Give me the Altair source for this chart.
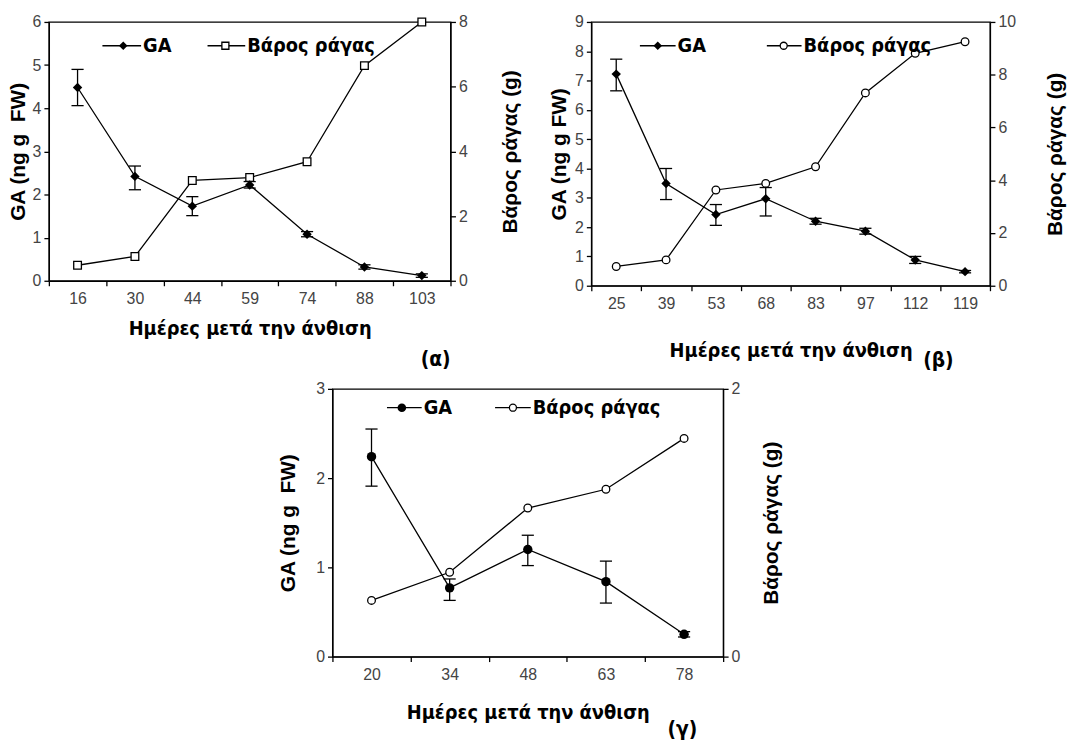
import altair as alt
import pandas as pd

X_TITLE = "Ημέρες μετά την άνθιση"
WT_TITLE = "Βάρος ράγας (g)"
WT_NAME = "Βάρος ράγας"

# (α)
days_a = ["16", "30", "44", "59", "74", "88", "103"]
ga_a = [4.48, 2.42, 1.73, 2.22, 1.08, 0.32, 0.12]
ga_lo_a = [4.06, 2.11, 1.51, 2.15, 1.02, 0.27, 0.08]
ga_hi_a = [4.90, 2.66, 1.95, 2.30, 1.14, 0.37, 0.16]
wt_a = [0.48, 0.75, 3.10, 3.19, 3.68, 6.65, 8.00]

# (β)
days_b = ["25", "39", "53", "68", "83", "97", "112", "119"]
ga_b = [7.22, 3.49, 2.43, 2.97, 2.20, 1.86, 0.88, 0.48]
ga_lo_b = [6.65, 2.94, 2.06, 2.38, 2.10, 1.76, 0.76, 0.44]
ga_hi_b = [7.73, 4.00, 2.77, 3.35, 2.30, 1.96, 1.00, 0.52]
wt_b = [0.73, 0.98, 3.63, 3.88, 4.51, 7.31, 8.81, 9.25]

# (γ)
days_c = ["20", "34", "48", "63", "78"]
ga_c = [2.24, 0.77, 1.20, 0.84, 0.25]
ga_lo_c = [1.91, 0.63, 1.02, 0.60, 0.22]
ga_hi_c = [2.55, 0.87, 1.36, 1.07, 0.28]
wt_c = [0.42, 0.63, 1.11, 1.25, 1.63]

NARROW = "DejaVu Sans Condensed, Liberation Sans, sans-serif"
LW = 1.3


def panel(days, ga, lo, hi, wt, ga_max, wt_max, wt_step, width, height,
          ga_title, ga_shape, wt_shape, tag, leg, tag_xy,
          left_pad, right_pad, x_pad):
    df = pd.DataFrame({"day": days, "ga": ga, "lo": lo, "hi": hi, "wt": wt})
    one = pd.DataFrame({"k": [0]})

    x = alt.X(
        "day:O", sort=days, bandPosition=0.5,
        scale=alt.Scale(type="band", paddingInner=0, paddingOuter=0),
        axis=alt.Axis(title=X_TITLE, labelAngle=0, tickBand="extent",
                      labelPadding=5, titlePadding=x_pad),
    )
    ga_scale = alt.Scale(domain=[0, ga_max], nice=False, zero=True)
    ga_axis = alt.Axis(title=ga_title, orient="left",
                       values=list(range(0, ga_max + 1)), format="d",
                       titlePadding=left_pad, labelPadding=3)
    wt_scale = alt.Scale(domain=[0, wt_max], nice=False, zero=True)
    wt_axis = alt.Axis(title=WT_TITLE, orient="right", titleAngle=270,
                       values=list(range(0, wt_max + 1, wt_step)), format="d",
                       titlePadding=right_pad, labelPadding=3)

    base = alt.Chart(df)

    wt_line = base.mark_line(color="black", strokeWidth=LW).encode(
        x=x, y=alt.Y("wt:Q", scale=wt_scale, axis=wt_axis))
    wt_pts = base.mark_point(shape=wt_shape, size=60, filled=True,
                             fill="white", stroke="black",
                             strokeWidth=LW, opacity=1).encode(
        x=x, y=alt.Y("wt:Q", scale=wt_scale, axis=wt_axis))
    wt_layer = alt.layer(wt_line, wt_pts)

    ga_line = base.mark_line(color="black", strokeWidth=LW).encode(
        x=x, y=alt.Y("ga:Q", scale=ga_scale, axis=ga_axis))
    ga_err = base.mark_rule(color="black", strokeWidth=LW).encode(
        x=x, y=alt.Y("lo:Q", scale=ga_scale, axis=ga_axis), y2="hi:Q")
    cap_hi = base.mark_point(shape="M-1,0L1,0", size=150, stroke="black",
                             strokeWidth=LW, opacity=1).encode(
        x=x, y=alt.Y("hi:Q", scale=ga_scale, axis=ga_axis))
    cap_lo = base.mark_point(shape="M-1,0L1,0", size=150, stroke="black",
                             strokeWidth=LW, opacity=1).encode(
        x=x, y=alt.Y("lo:Q", scale=ga_scale, axis=ga_axis))
    ga_pts = base.mark_point(shape=ga_shape, size=90, filled=True,
                             color="black", opacity=1).encode(
        x=x, y=alt.Y("ga:Q", scale=ga_scale, axis=ga_axis))
    ga_layer = alt.layer(ga_line, ga_err, cap_hi, cap_lo, ga_pts)

    # legend keys drawn inside the plot frame
    (g0, g1, gm, gt, w0, w1, wm, wt_t, ly) = leg
    lg = alt.Chart(one)
    legend = [
        lg.mark_rule(color="black", strokeWidth=LW).encode(
            x=alt.value(g0), x2=alt.value(g1), y=alt.value(ly)),
        lg.mark_point(shape=ga_shape, size=75, filled=True, color="black",
                      opacity=1).encode(x=alt.value(gm), y=alt.value(ly)),
        lg.mark_text(align="left", baseline="middle", font=NARROW,
                     fontSize=20, fontWeight="bold", color="black").encode(
            x=alt.value(gt), y=alt.value(ly), text=alt.value("GA")),
        lg.mark_rule(color="black", strokeWidth=LW).encode(
            x=alt.value(w0), x2=alt.value(w1), y=alt.value(ly)),
        lg.mark_point(shape=wt_shape, size=50, filled=True, fill="white",
                      stroke="black", strokeWidth=LW, opacity=1).encode(
            x=alt.value(wm), y=alt.value(ly)),
        lg.mark_text(align="left", baseline="middle", font=NARROW,
                     fontSize=20, fontWeight="bold", color="black").encode(
            x=alt.value(wt_t), y=alt.value(ly), text=alt.value(WT_NAME)),
    ]
    tag_mark = lg.mark_text(align="center", baseline="middle",
                            font=NARROW, fontSize=21, fontWeight="bold",
                            color="black").encode(
        x=alt.value(tag_xy[0]), y=alt.value(height + tag_xy[1]),
        text=alt.value(tag))

    return alt.layer(wt_layer, ga_layer, *legend, tag_mark).resolve_scale(
        y="independent").properties(width=width, height=height)


GA_WIDE = "GA (ng g\u00a0\u00a0FW)"

pa = panel(days_a, ga_a, ga_lo_a, ga_hi_a, wt_a, 6, 8, 2, 405, 261,
           GA_WIDE, "diamond", "square", "(α)",
           (54, 93, 75, 95, 160, 198, 178, 200, 24), (390, 80), 4, 54, 12)
pb = panel(days_b, ga_b, ga_lo_b, ga_hi_b, wt_b, 9, 10, 2, 402, 266,
           "GA (ng g FW)", "diamond", "circle", "(β)",
           (49, 85, 67, 87, 177, 212, 194, 214, 24), (350, 76), 5, 50, 29)
pc = panel(days_c, ga_c, ga_lo_c, ga_hi_c, wt_c, 3, 2, 1, 394, 270,
           GA_WIDE, "circle", "circle", "(γ)",
           (55, 90, 70, 92, 164, 200, 182, 202, 19), (353, 74), 17, 42, 20)

top = alt.hconcat(pa, pb, spacing=26)
chart = alt.vconcat(top, pc, spacing=8, center=True).properties(
    padding={"left": 6, "top": 10, "right": 6, "bottom": 2}
).configure_view(
    stroke="black", strokeWidth=LW
).configure_axis(
    labelFont="Liberation Sans", labelFontSize=16, labelColor="#444",
    titleFont="Liberation Sans", titleFontSize=21, titleFontWeight="bold",
    titleColor="black", domainColor="black", domainWidth=LW,
    tickColor="black", tickWidth=LW, tickSize=5, grid=False,
).configure_axisX(
    titleFont=NARROW, titleFontSize=20,
)

chart.save("out.html", embed_options={"renderer": "svg", "actions": False})
